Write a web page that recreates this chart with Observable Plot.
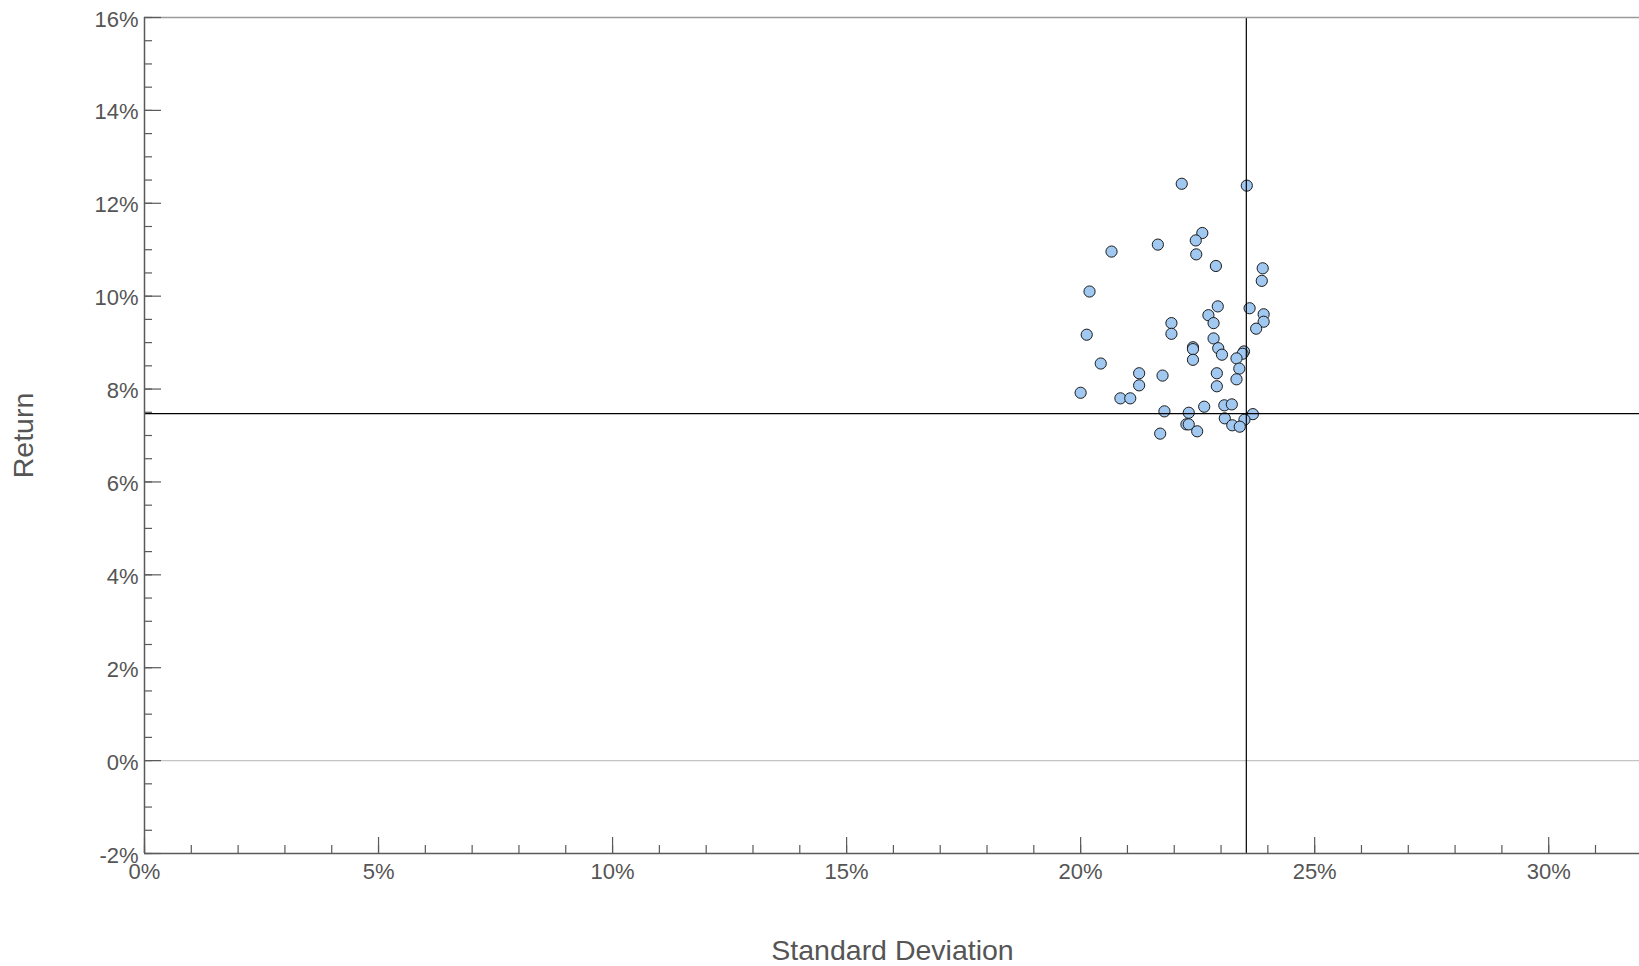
<!DOCTYPE html>
<html>
<head>
<meta charset="utf-8">
<script src="https://cdn.jsdelivr.net/npm/d3@7"></script>
<script src="https://cdn.jsdelivr.net/npm/@observablehq/plot@0.6"></script>
<style>
  html, body { margin: 0; padding: 0; background: #fff; }
  #chart svg { display: block; }
</style>
</head>
<body>
<div id="chart"></div>
<script>
// Standard deviation (%) and return (%) of each portfolio
const stdDev = [
  22.16, 23.55, 22.60, 22.46, 20.66, 21.65, 22.47, 22.89, 23.89, 23.87,
  20.19, 22.93, 23.61, 23.91, 22.73, 23.91, 22.84, 21.94, 23.75, 21.94,
  20.13, 22.84, 22.40, 22.40, 22.94, 23.02, 23.49, 23.46, 23.33, 22.40,
  20.43, 23.39, 22.91, 21.25, 21.75, 23.33, 21.25, 22.91, 20.00, 20.85,
  21.06, 22.64, 23.07, 23.23, 21.79, 22.31, 23.68, 23.08, 23.50, 22.26,
  22.31, 23.24, 23.40, 22.49, 21.70
];
const returns = [
  12.42, 12.38, 11.36, 11.20, 10.96, 11.11, 10.90, 10.65, 10.60, 10.33,
  10.10, 9.78, 9.74, 9.61, 9.59, 9.45, 9.42, 9.42, 9.30, 9.19,
  9.17, 9.09, 8.90, 8.86, 8.88, 8.74, 8.81, 8.76, 8.66, 8.63,
  8.55, 8.44, 8.34, 8.34, 8.29, 8.21, 8.08, 8.06, 7.92, 7.80,
  7.80, 7.62, 7.65, 7.67, 7.52, 7.49, 7.46, 7.37, 7.34, 7.24,
  7.24, 7.22, 7.19, 7.09, 7.04
];
// Reference (benchmark) crosshair
const refStdDev = [23.54];
const refReturn = [7.47];
const zeroLine = [0];

// Axis ticks
const xMajorTicks = [0, 5, 10, 15, 20, 25, 30];
const xMinorTicks = d3.range(0, 32, 1);
const yMajorTicks = [-2, 0, 2, 4, 6, 8, 10, 12, 14, 16];
const yMinorTicks = d3.range(-2, 16.01, 0.5);
const xDomain = [0, 31.94];
const yDomain = [-2, 16];
const xLabel = ["Standard Deviation"];
const yLabel = ["Return"];

const points = stdDev.map((s, i) => ({sd: s, ret: returns[i]}));

const W = 1639, H = 966;
const mL = 144, mR = 0, mT = 17, mB = 113;
const plotW = W - mL - mR, plotH = H - mT - mB;
const axisColor = "#5a5a5a";
const textColor = "#555555";

const chart = Plot.plot({
  width: W,
  height: H,
  marginLeft: mL,
  marginRight: mR,
  marginTop: mT,
  marginBottom: mB,
  style: {fontFamily: "'Liberation Sans', Arial, sans-serif", background: "#fff"},
  x: {domain: xDomain, axis: null},
  y: {domain: yDomain, axis: null},
  marks: [
    // zero line
    Plot.ruleY(zeroLine, {stroke: "#c4c4c4", strokeWidth: 1.2}),
    // points
    Plot.dot(points, {x: "sd", y: "ret", r: 5.6, fill: "#a0c8f0", stroke: "#1a1a1a", strokeWidth: 1}),
    // crosshair
    Plot.ruleX(refStdDev, {stroke: "#000", strokeWidth: 1.2}),
    Plot.ruleY(refReturn, {stroke: "#000", strokeWidth: 1.2}),
    // frame: top border, left and bottom axes
    Plot.ruleY([yDomain[1]], {stroke: "#9a9a9a", strokeWidth: 1.6}),
    Plot.ruleX([xDomain[0]], {stroke: axisColor, strokeWidth: 1.5}),
    Plot.ruleY([yDomain[0]], {stroke: axisColor, strokeWidth: 1.5}),
    // y ticks (inward)
    Plot.tickY(yMinorTicks, {y: d => d, stroke: axisColor, strokeWidth: 1.2, insetRight: plotW - 8}),
    Plot.tickY(yMajorTicks, {y: d => d, stroke: axisColor, strokeWidth: 1.2, insetRight: plotW - 17}),
    // x ticks (inward)
    Plot.tickX(xMinorTicks, {x: d => d, stroke: axisColor, strokeWidth: 1.2, insetTop: plotH - 8}),
    Plot.tickX(xMajorTicks, {x: d => d, stroke: axisColor, strokeWidth: 1.2, insetTop: plotH - 16}),
    // tick labels
    Plot.axisY(yMajorTicks, {anchor: "left", tickSize: 0, tickPadding: 6, dy: 2, fontSize: 22, color: textColor, tickFormat: d => d + "%", label: null}),
    Plot.axisX(xMajorTicks, {anchor: "bottom", tickSize: 0, tickPadding: 10, fontSize: 22, color: textColor, tickFormat: d => d + "%", label: null}),
    // axis titles
    Plot.text(xLabel, {frameAnchor: "bottom", text: d => d, dx: 0.5, dy: 97, fontSize: 28.5, fill: textColor, textAnchor: "middle", lineAnchor: "middle"}),
    Plot.text(yLabel, {frameAnchor: "left", text: d => d, dx: -121, rotate: -90, fontSize: 28.5, fill: textColor, textAnchor: "middle", lineAnchor: "middle"})
  ]
});
document.getElementById("chart").appendChild(chart);
</script>
</body>
</html>
